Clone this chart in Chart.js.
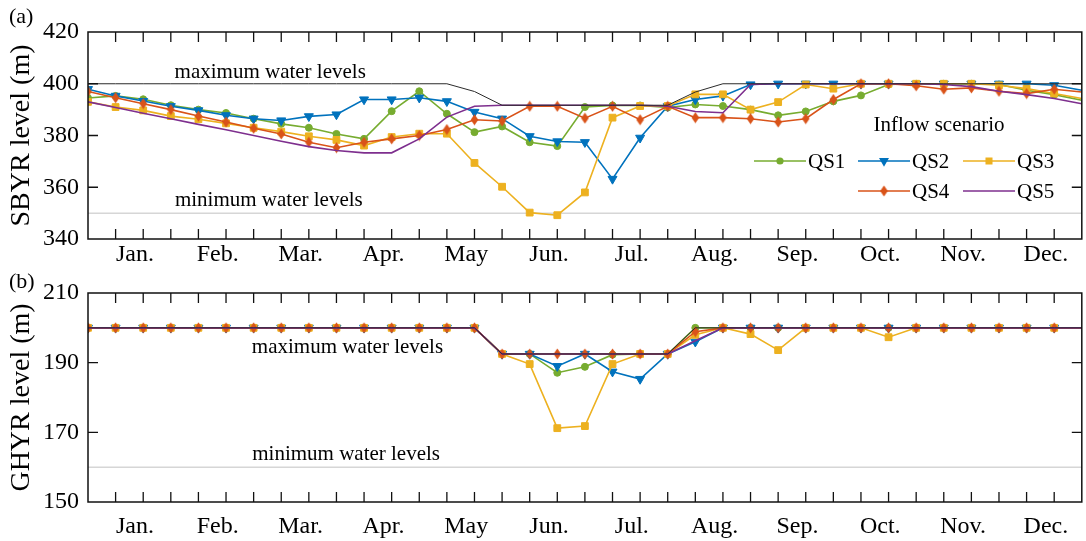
<!DOCTYPE html>
<html>
<head>
<meta charset="utf-8">
<script src="https://cdn.jsdelivr.net/npm/chart.js@4.4.1/dist/chart.umd.min.js"></script>
<style>
  html, body { margin: 0; padding: 0; background: #fff; overflow: hidden; }
  #wrap { position: relative; width: 1086px; height: 541px; overflow: hidden; }
  canvas { position: absolute; left: 0; }
</style>
</head>
<body>
<div id="wrap">
  <canvas id="chartA" width="1088" height="282" style="top:0"></canvas>
  <canvas id="chartB" width="1088" height="273" style="top:268px"></canvas>
</div>
<script>
// x = ten-day period index (0 = 1 Jan ... 36 = end of Dec)
const tenDays = [0,1,2,3,4,5,6,7,8,9,10,11,12,13,14,15,16,17,18,19,20,21,22,23,24,25,26,27,28,29,30,31,32,33,34,35,36];
const months = ['Jan.', 'Feb.', 'Mar.', 'Apr.', 'May', 'Jun.', 'Jul.', 'Aug.', 'Sep.', 'Oct.', 'Nov.', 'Dec.'];
const monthPos = [1.7, 4.7, 7.7, 10.7, 13.7, 16.7, 19.7, 22.7, 25.7, 28.7, 31.7, 34.7];

// (a) SBYR
const yTicksA = [340, 360, 380, 400, 420];
const minLevelA = 350;
const maxLevelA = [400, 400, 400, 400, 400, 400, 400, 400, 400, 400, 400, 400, 400, 400, 397, 391.7, 391.7, 391.7, 391.7, 391.7, 391.7, 391.7, 396.8, 400, 400, 400, 400, 400, 400, 400, 400, 400, 400, 400, 400, 400, 400];
const qs1A = [394.5, 395.3, 394, 391.7, 390, 388.7, 386.5, 384.5, 383, 380.6, 378.7, 389.4, 397.1, 388.4, 381.3, 383.5, 377.4, 375.9, 391, 391.6, 391.6, 390.8, 392, 391.4, 390, 387.8, 389.3, 393.2, 395.5, 399.7, 400, 400, 400, 399.7, 397.5, 395.8, 393.6];
const qs2A = [397.9, 395.3, 393.3, 391.3, 389.7, 387.8, 386.5, 385.8, 387.4, 388.1, 393.9, 393.9, 394.6, 393.2, 389.1, 386.5, 379.7, 377.7, 377.4, 363.2, 379.1, 391.3, 393.9, 395.3, 399.7, 400, 400, 400, 400, 400, 400, 400, 400, 400, 400, 399.4, 397.5];
const qs3A = [393, 391, 389.7, 387.5, 386.3, 384.7, 383, 381.5, 379.7, 378.3, 376.1, 379.4, 380.7, 380.7, 369.4, 360.2, 350.2, 349.2, 358, 386.9, 391.4, 391.4, 395.9, 395.9, 390, 392.9, 399.7, 398.1, 400, 400, 400, 400, 400, 399.4, 398.1, 396.2, 394.3];
const qs4A = [397, 394.6, 392.3, 390, 387.5, 385.2, 382.8, 380.6, 377.4, 375.3, 377.4, 378.7, 380, 382.3, 386.1, 385.6, 391.3, 391.3, 386.7, 391.3, 386.1, 391.3, 386.9, 386.9, 386.5, 385.2, 386.5, 393.9, 400, 400, 399.2, 397.9, 398.4, 397.1, 396.2, 397.9, 396.8];
const qs5A = [393, 390.8, 388.6, 386.5, 384.3, 382.2, 380, 377.8, 375.7, 374.2, 373.3, 373.3, 378.7, 387.1, 391.3, 391.7, 391.7, 391.7, 391.7, 391.7, 391.7, 391.3, 389.3, 388.8, 399.7, 400, 400, 400, 400, 400, 400, 399.7, 398.9, 397.1, 395.8, 394.3, 392.3];

// (b) GHYR
const yTicksB = [150, 170, 190, 210];
const minLevelB = 160;
const maxLevelB = [200, 200, 200, 200, 200, 200, 200, 200, 200, 200, 200, 200, 200, 200, 200, 192.5, 192.5, 192.5, 192.5, 192.5, 192.5, 192.5, 200, 200, 200, 200, 200, 200, 200, 200, 200, 200, 200, 200, 200, 200, 200];
const qs1B = [200, 200, 200, 200, 200, 200, 200, 200, 200, 200, 200, 200, 200, 200, 200, 192.5, 192.5, 187.1, 188.8, 192.3, 192.5, 192.5, 200, 200, 200, 200, 200, 200, 200, 200, 200, 200, 200, 200, 200, 200, 200];
const qs2B = [200, 200, 200, 200, 200, 200, 200, 200, 200, 200, 200, 200, 200, 200, 200, 192.5, 192.5, 189, 192.5, 187.4, 185.3, 192.5, 196, 200, 200, 200, 200, 200, 200, 200, 200, 200, 200, 200, 200, 200, 200];
const qs3B = [200, 200, 200, 200, 200, 200, 200, 200, 200, 200, 200, 200, 200, 200, 200, 192.5, 189.6, 171.2, 171.8, 189.6, 192.5, 192.5, 198, 200, 198.2, 193.6, 200, 200, 200, 197.3, 200, 200, 200, 200, 200, 200, 200];
const qs4B = [200, 200, 200, 200, 200, 200, 200, 200, 200, 200, 200, 200, 200, 200, 200, 192.5, 192.5, 192.5, 192.5, 192.5, 192.5, 192.5, 198.9, 200, 200, 200, 200, 200, 200, 200, 200, 200, 200, 200, 200, 200, 200];
const qs5B = [200, 200, 200, 200, 200, 200, 200, 200, 200, 200, 200, 200, 200, 200, 200, 192.5, 192.5, 192.5, 192.5, 192.5, 192.5, 192.5, 196.3, 200, 200, 200, 200, 200, 200, 200, 200, 200, 200, 200, 200, 200, 200];

const seriesNames = ['QS1', 'QS2', 'QS3', 'QS4', 'QS5'];
const seriesColors = ['#77AC30', '#0072BD', '#EDB120', '#D95319', '#7E2F8E'];

Chart.defaults.font.family = "'Liberation Serif', 'Times New Roman', serif";
Chart.defaults.color = '#000';

// narrow diamond marker like matlab's 'd'
function diamond(color) {
    const c = document.createElement('canvas');
    c.width = 9; c.height = 12;
    const g = c.getContext('2d');
    g.fillStyle = color;
    g.beginPath();
    g.moveTo(4.5, 0.5); g.lineTo(8.3, 6); g.lineTo(4.5, 11.5); g.lineTo(0.7, 6);
    g.closePath(); g.fill();
    return c;
}

const markers = [
    { style: 'circle', r: 3.5, rot: 0 },
    { style: 'triangle', r: 5.2, rot: 180 },
    { style: 'rect', r: 4.8, rot: 0 },
    { style: diamond(seriesColors[3]), r: 4, rot: 0 },
    { style: 'circle', r: 0, rot: 0 }
];

function toXY(values) {
    return values.map((v, i) => ({ x: tenDays[i], y: v }));
}

function buildDatasets(list, maxLevel, minLevel) {
    const last = tenDays.length - 1;
    const sets = list.map((values, k) => ({
        label: seriesNames[k],
        data: toXY(values),
        borderColor: seriesColors[k],
        backgroundColor: seriesColors[k],
        borderWidth: 1.6,
        pointStyle: markers[k].style,
        pointRotation: markers[k].rot,
        pointBorderWidth: 1,
        pointRadius: ctx => ctx.dataIndex === last ? 0 : markers[k].r,
        order: 5 - k + 1
    }));
    sets.push({
        label: 'max', data: toXY(maxLevel), borderColor: '#2b2b2b', borderWidth: 1,
        pointRadius: 0, order: 0
    });
    sets.push({
        label: 'min', data: [{ x: tenDays[0], y: minLevel }, { x: tenDays[last], y: minLevel }],
        borderColor: '#d6d6d6', borderWidth: 1.5, pointRadius: 0, order: 20
    });
    return sets;
}

// frame with inward ticks, notes and panel letter
const framePlugin = {
    id: 'frame',
    afterDatasetsDraw(chart, args, opts) {
        const { ctx, chartArea: a, scales: { x, y } } = chart;
        ctx.save();
        ctx.strokeStyle = '#111';
        ctx.lineWidth = 1.5;
        ctx.strokeRect(a.left, a.top, a.right - a.left, a.bottom - a.top);
        ctx.beginPath();
        ctx.lineWidth = 1.3;
        for (let i = 1; i < 36; i++) {
            const px = x.getPixelForValue(i);
            ctx.moveTo(px, a.top); ctx.lineTo(px, a.top + 10);
            ctx.moveTo(px, a.bottom); ctx.lineTo(px, a.bottom - 10);
        }
        opts.yInner.forEach(v => {
            const py = y.getPixelForValue(v);
            ctx.moveTo(a.left, py); ctx.lineTo(a.left + 10, py);
            ctx.moveTo(a.right, py); ctx.lineTo(a.right - 10, py);
        });
        ctx.stroke();

        ctx.fillStyle = '#000';
        ctx.textAlign = 'center';
        ctx.textBaseline = 'middle';
        ctx.font = "21px 'Liberation Serif'";
        opts.notes.forEach(n => ctx.fillText(n.text, x.getPixelForValue(n.x), y.getPixelForValue(n.y)));

        ctx.textAlign = 'left';
        ctx.font = "22px 'Liberation Serif'";
        ctx.fillText(opts.panel, 9, opts.panelY);
        ctx.restore();
    }
};

// legend laid out like the original (title + 3/2 items)
const legendPlugin = {
    id: 'scenarioLegend',
    afterDraw(chart, args, opts) {
        if (!opts.show) return;
        const ctx = chart.ctx;
        ctx.save();
        ctx.fillStyle = '#000';
        ctx.font = "21px 'Liberation Serif'";
        ctx.textAlign = 'center';
        ctx.textBaseline = 'middle';
        ctx.fillText('Inflow scenario', opts.titleX, opts.titleY);
        ctx.textAlign = 'left';
        opts.cells.forEach((c, k) => {
            ctx.strokeStyle = seriesColors[k];
            ctx.fillStyle = seriesColors[k];
            ctx.lineWidth = 1.6;
            ctx.beginPath();
            ctx.moveTo(c.x, c.y); ctx.lineTo(c.x + 52, c.y);
            ctx.stroke();
            if (markers[k].r > 0) {
                Chart.helpers.drawPoint(ctx, {
                    pointStyle: markers[k].style, radius: markers[k].r * 0.8,
                    rotation: markers[k].rot, borderWidth: 1
                }, c.x + 26, c.y);
            }
            ctx.fillStyle = '#000';
            ctx.fillText(seriesNames[k], c.x + 54, c.y + 1);
        });
        ctx.restore();
    }
};

function makeChart(id, cfg) {
    return new Chart(document.getElementById(id), {
        type: 'line',
        data: { datasets: buildDatasets(cfg.series, cfg.maxLevel, cfg.minLevel) },
        options: {
            responsive: false,
            animation: false,
            devicePixelRatio: 1,
            layout: { padding: { top: cfg.padTop, left: 0, right: 0, bottom: 0 } },
            scales: {
                x: {
                    type: 'linear', min: 0, max: 36,
                    grid: { display: false, tickLength: 0 }, border: { display: false },
                    afterBuildTicks: s => { s.ticks = monthPos.map(v => ({ value: v })); },
                    afterFit: s => { s.height = cfg.xHeight; },
                    ticks: {
                        autoSkip: false, maxRotation: 0, padding: cfg.xPad,
                        font: { size: 24 },
                        callback: (v, i) => months[i]
                    }
                },
                y: {
                    min: cfg.yTicks[0], max: cfg.yTicks[cfg.yTicks.length - 1],
                    grid: { display: false, tickLength: 0 }, border: { display: false },
                    afterBuildTicks: s => { s.ticks = cfg.yTicks.map(v => ({ value: v })); },
                    afterFit: s => { s.width = 88; },
                    ticks: { padding: 9, font: { size: 24 } },
                    title: { display: true, text: cfg.yTitle, font: { size: 28 }, padding: { top: 5, bottom: 0 } }
                }
            },
            plugins: {
                legend: { display: false },
                tooltip: { enabled: false },
                frame: { yInner: cfg.yInner, notes: cfg.notes, panel: cfg.panel, panelY: cfg.panelY },
                scenarioLegend: cfg.legend
            }
        },
        plugins: [framePlugin, legendPlugin]
    });
}

makeChart('chartA', {
    series: [qs1A, qs2A, qs3A, qs4A, qs5A],
    maxLevel: maxLevelA, minLevel: minLevelA,
    yTicks: yTicksA, yInner: [360, 380, 400],
    yTitle: 'SBYR level (m)',
    padTop: 32, xHeight: 43, xPad: 1,
    panel: '(a)', panelY: 17,
    notes: [
        { text: 'maximum water levels', x: 6.6, y: 404.5 },
        { text: 'minimum water levels', x: 6.55, y: 354.8 }
    ],
    legend: {
        show: true, titleX: 939, titleY: 125,
        cells: [{ x: 754, y: 161 }, { x: 858, y: 161 }, { x: 963, y: 161 }, { x: 858, y: 191 }, { x: 963, y: 191 }]
    }
});

makeChart('chartB', {
    series: [qs1B, qs2B, qs3B, qs4B, qs5B],
    maxLevel: maxLevelB, minLevel: minLevelB,
    yTicks: yTicksB, yInner: [170, 190],
    yTitle: 'GHYR level (m)',
    padTop: 25, xHeight: 39, xPad: 10,
    panel: '(b)', panelY: 14,
    notes: [
        { text: 'maximum water levels', x: 9.4, y: 194.5 },
        { text: 'minimum water levels', x: 9.35, y: 163.5 }
    ],
    legend: { show: false }
});
</script>
</body>
</html>
